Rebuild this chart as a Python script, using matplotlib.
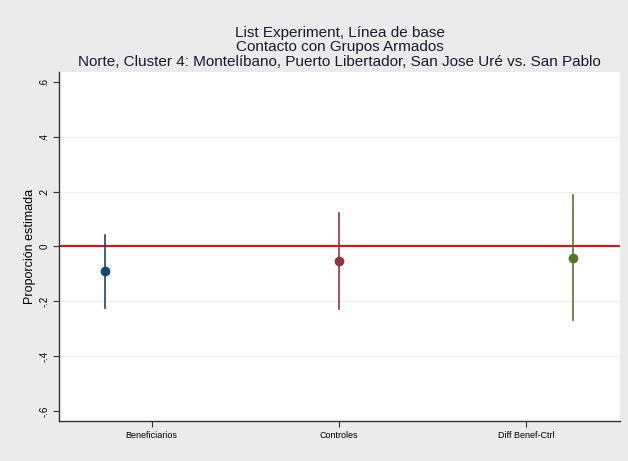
import matplotlib
matplotlib.use("Agg")
import matplotlib.pyplot as plt

# ---- data ----
categories = ["Beneficiarios", "Controles", "Diff Benef-Ctrl"]
estimates = [-0.089, -0.053, -0.042]
ci_low = [-0.224, -0.228, -0.268]
ci_high = [0.042, 0.122, 0.188]
colors = ["#1a476f", "#90353b", "#55752f"]
yticks = [0.6, 0.4, 0.2, 0.0, -0.2, -0.4, -0.6]
ytick_labels = [".6", ".4", ".2", "0", "-.2", "-.4", "-.6"]
title_lines = ["List Experiment, Línea de base",
               "Contacto con Grupos Armados",
               "Norte, Cluster 4: Montelíbano, Puerto Libertador, San Jose Uré vs. San Pablo"]
ylabel = "Proporción estimada"

# layout (positions)
point_x = [1, 2, 3]
tick_x = [1.2, 2.0, 2.8]

plt.rcParams['font.family'] = ['Liberation Sans', 'DejaVu Sans']

fig = plt.figure(figsize=(6.28, 4.61), dpi=100, facecolor="#ebebeb")
ax = fig.add_axes([59/628, 1-421/461, (620-59)/628, (421-72)/461])
ax.set_facecolor("white")

for y in [0.4, 0.2, -0.2, -0.4]:
    ax.axhline(y, color="#eeeeee", lw=0.8, zorder=0)
ax.axhline(0, color="#ff0000", lw=1.4, zorder=1)

for x, e, lo, hi, c in zip(point_x, estimates, ci_low, ci_high, colors):
    ax.plot([x, x], [lo, hi], color=c, lw=1.2, zorder=2)
    ax.plot([x], [e], 'o', color=c, ms=6, zorder=3)

ax.set_xlim(0.805, 3.2)
ax.set_ylim(-0.637, 0.637)
ax.set_yticks(yticks)
ax.set_yticklabels(ytick_labels, rotation=90, va="center", fontsize=7)
ax.set_xticks(tick_x)
ax.set_xticklabels(categories, fontsize=6.5)
ax.tick_params(axis='both', length=4, width=0.8, color="#333333", pad=3)
for s in ["top", "right"]:
    ax.spines[s].set_visible(False)
for s in ["left", "bottom"]:
    ax.spines[s].set_color("#333333")
    ax.spines[s].set_linewidth(1.0)
ax.set_ylabel(ylabel, fontsize=9, labelpad=2)

xc = (59 + 620) / 2 / 628
for ypix, t in zip([33, 47, 62], title_lines):
    fig.text(xc, 1 - ypix/461, t, ha="center", va="center", fontsize=11, color="#1a1a2e")

fig.savefig("out.png", dpi=100, facecolor=fig.get_facecolor())
